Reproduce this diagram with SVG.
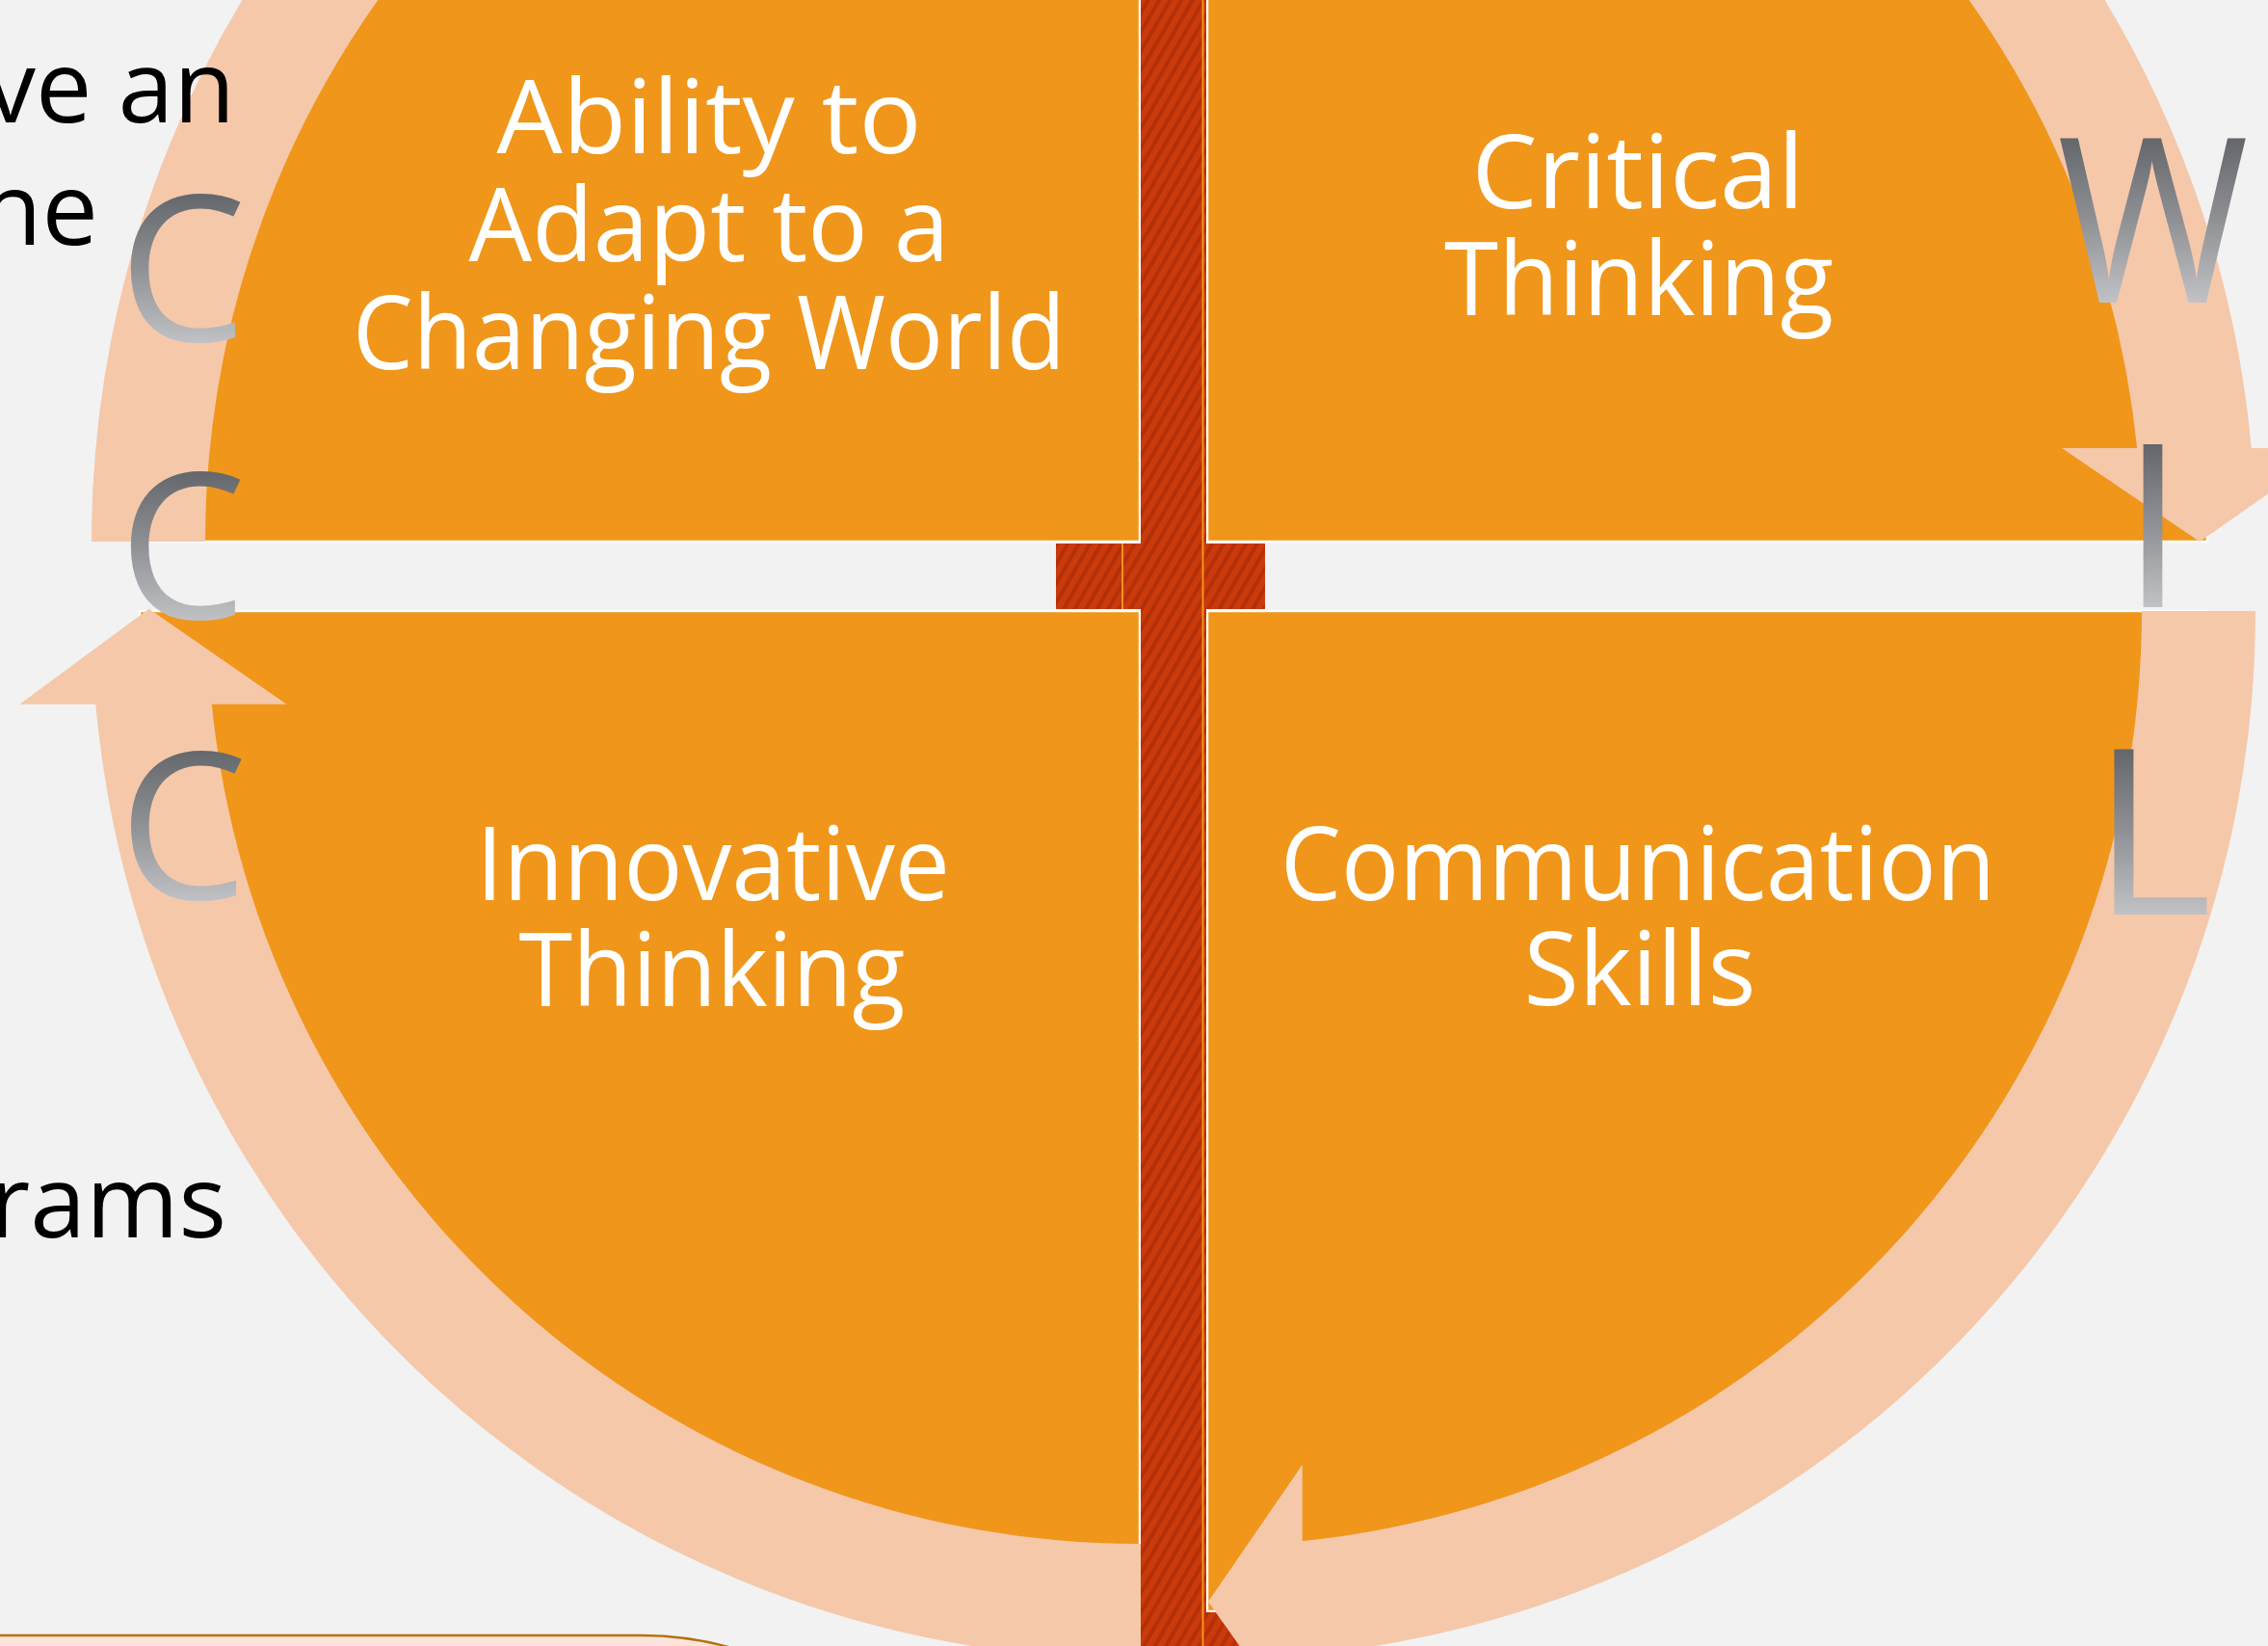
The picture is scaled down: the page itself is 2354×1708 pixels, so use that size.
<svg xmlns="http://www.w3.org/2000/svg" width="2354" height="1708" viewBox="0 0 2354 1708">
<style>
.quad{fill:#F0961A;stroke:#FFFFFF;stroke-width:2.5}
.lbl{font-family:"Open Sans","Liberation Sans",sans-serif;font-size:106px;fill:#FFFFFF;text-anchor:middle}
.band{fill:#F5C8AA}
.big{font-family:"Open Sans","Liberation Sans",sans-serif}
.body{font-family:"Open Sans","Liberation Sans",sans-serif;font-size:104px;fill:#000000;text-anchor:end}
.seam{fill:#F0961A}
</style>
<defs>
<pattern id="carbon" width="10" height="10" patternUnits="userSpaceOnUse" patternTransform="rotate(30)">
<rect width="10" height="10" fill="#CA3A0B"/>
<rect width="4" height="10" fill="#B43007"/>
</pattern>
<linearGradient id="gC1" gradientUnits="userSpaceOnUse" x1="0" y1="200" x2="0" y2="357"><stop offset="0" stop-color="#63666A"/><stop offset="0.5" stop-color="#8F9195"/><stop offset="1" stop-color="#C1C2C5"/></linearGradient>
<linearGradient id="gC2" gradientUnits="userSpaceOnUse" x1="0" y1="488" x2="0" y2="645"><stop offset="0" stop-color="#63666A"/><stop offset="0.5" stop-color="#8F9195"/><stop offset="1" stop-color="#C1C2C5"/></linearGradient>
<linearGradient id="gC3" gradientUnits="userSpaceOnUse" x1="0" y1="777" x2="0" y2="936"><stop offset="0" stop-color="#63666A"/><stop offset="0.5" stop-color="#8F9195"/><stop offset="1" stop-color="#C1C2C5"/></linearGradient>
<linearGradient id="gW" gradientUnits="userSpaceOnUse" x1="0" y1="144" x2="0" y2="314"><stop offset="0" stop-color="#63666A"/><stop offset="0.5" stop-color="#8F9195"/><stop offset="1" stop-color="#C1C2C5"/></linearGradient>
<linearGradient id="gI" gradientUnits="userSpaceOnUse" x1="0" y1="461" x2="0" y2="630"><stop offset="0" stop-color="#63666A"/><stop offset="0.5" stop-color="#8F9195"/><stop offset="1" stop-color="#C1C2C5"/></linearGradient>
<linearGradient id="gL" gradientUnits="userSpaceOnUse" x1="0" y1="778" x2="0" y2="949"><stop offset="0" stop-color="#63666A"/><stop offset="0.5" stop-color="#8F9195"/><stop offset="1" stop-color="#C1C2C5"/></linearGradient>
</defs>
<rect width="2354" height="1708" fill="#F2F2F2"/>

<g id="node-adapt">
<path class="quad" d="M1183,562 L145,562 A1038,1038 0 0 1 1183,-476 Z"/>
<text class="lbl"><tspan x="736" y="159" textLength="441" lengthAdjust="spacingAndGlyphs">Ability to</tspan><tspan x="736" y="271" textLength="499" lengthAdjust="spacingAndGlyphs">Adapt to a</tspan><tspan x="736" y="383" textLength="740" lengthAdjust="spacingAndGlyphs">Changing World</tspan></text>
</g>
<g id="node-critical">
<path class="quad" d="M1253,562 L1253,-476 A1038,1038 0 0 1 2291,562 Z"/>
<text class="lbl"><tspan x="1700" y="216" textLength="345" lengthAdjust="spacingAndGlyphs">Critical</tspan><tspan x="1701" y="327" textLength="404" lengthAdjust="spacingAndGlyphs">Thinking</tspan></text>
</g>
<g id="node-innovative">
<path class="quad" d="M1183,634 L1183,1672 A1038,1038 0 0 1 145,634 Z"/>
<text class="lbl"><tspan x="740" y="934" textLength="492" lengthAdjust="spacingAndGlyphs">Innovative</tspan><tspan x="739" y="1044" textLength="401" lengthAdjust="spacingAndGlyphs">Thinking</tspan></text>
</g>
<g id="node-communication">
<path class="quad" d="M1253,634 L2291,634 A1038,1038 0 0 1 1253,1672 Z"/>
<text class="lbl"><tspan x="1700" y="934" textLength="742" lengthAdjust="spacingAndGlyphs">Communication</tspan><tspan x="1702" y="1043" textLength="241" lengthAdjust="spacingAndGlyphs">Skills</tspan></text>
</g>

<g id="cross">
<rect x="1184" y="0" width="68" height="1708" fill="url(#carbon)"/>
<rect x="1096" y="564" width="217" height="68" fill="url(#carbon)"/>
<rect x="1096" y="1673" width="217" height="70" fill="url(#carbon)"/>
<rect class="seam" x="1247.5" y="0" width="2" height="1708"/>
<rect class="seam" x="1164" y="564" width="2" height="68"/>
</g>

<g id="connectors">
<path class="band" d="M95,562 A1088,1088 0 0 1 413.7,-207.3 L497.1,-123.9 A970,970 0 0 0 213,562 Z"/>
<path class="band" d="M1938.9,-123.9 L2022.3,-207.3 A1088,1088 0 0 1 2336.7,465 L2422,465 L2283,562 L2140,465 L2218.1,465 A970,970 0 0 0 1938.9,-123.9 Z"/>
<path class="band" d="M2223,634 L2341,634 A1088,1088 0 0 1 1351.7,1717.5 L1351.7,1800 L1254,1662 L1351.7,1520 L1351.7,1599 A970,970 0 0 0 2223,634 Z"/>
<path class="band" d="M1184,1602 L1184,1722 A1088,1088 0 0 1 99.3,730.7 L20.4,730.7 L154.6,631.8 L297.4,730.7 L219.8,730.7 A968,968 0 0 0 1184,1602 Z"/>
</g>

<g id="letters" class="big">
<text x="123" y="354" font-size="211" fill="url(#gC1)">C</text>
<text x="123" y="642" font-size="211" fill="url(#gC2)">C</text>
<text x="123" y="933" font-size="213" fill="url(#gC3)">C</text>
<text x="2135" y="314" font-size="238" fill="url(#gW)" textLength="199" lengthAdjust="spacingAndGlyphs">W</text>
<text x="2234.7" y="630" font-size="237" fill="url(#gI)" text-anchor="middle">I</text>
<text x="2171" y="949" font-size="240" fill="url(#gL)">L</text>
</g>

<g id="side-text">
<text class="body" x="244" y="127">ve an</text>
<text class="body" x="102" y="254">ne</text>
<text class="body" x="235" y="1284">rams</text>
</g>

<g id="bottom-box">
<rect x="-400" y="1697" width="1408" height="700" rx="342" ry="342" fill="#FCE4DC" stroke="#B5700F" stroke-width="2.5"/>
</g>
</svg>
